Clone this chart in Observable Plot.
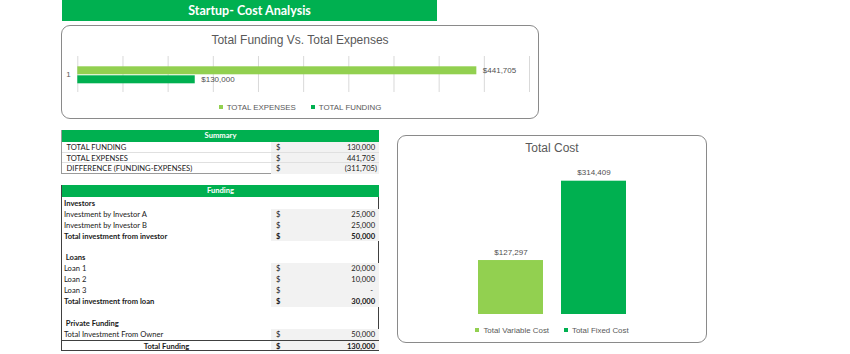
<!DOCTYPE html>
<html><head><meta charset="utf-8">
<script src="https://cdn.jsdelivr.net/npm/d3@7"></script>
<script src="https://cdn.jsdelivr.net/npm/@observablehq/plot@0.6"></script>
<style>
body{margin:0;background:#fff;width:850px;height:354px;position:relative;overflow:hidden;font-family:Lato,"Liberation Sans",sans-serif;}
.abs{position:absolute;}
.box{position:absolute;box-sizing:border-box;border:1px solid #8a8a8a;border-radius:9px;}
.ctitle{position:absolute;text-align:center;font-family:"Liberation Sans",Arial,sans-serif;color:#595959;font-size:12px;line-height:14px;}
.legend{position:absolute;display:flex;justify-content:center;align-items:center;font-family:"Liberation Sans",Arial,sans-serif;font-size:7.9px;color:#595959;gap:15px;height:12px;}
.legend .item{display:flex;align-items:center;}
.legend .sw{display:inline-block;width:4px;height:4px;margin-right:4px;}
.row{position:absolute;font-size:7.6px;color:#1a1a1a;white-space:pre;box-sizing:border-box;}
.row span{position:absolute;top:0;}
.banner{position:absolute;left:62px;top:0;width:375px;height:21px;background:#00B050;color:#fff;font:bold 12.5px Lato,"Liberation Sans",sans-serif;display:flex;align-items:center;justify-content:center;}
.thead{position:absolute;background:#00B050;color:#fff;font-weight:bold;font-size:7.6px;text-align:center;}
</style></head><body>
<div class="banner" id="banner"></div>
<div class="box" style="left:61px;top:25px;width:478px;height:94px;"></div>
<div class="ctitle" id="t1" style="left:61px;top:32.5px;width:478px;"></div>
<div class="abs" id="c1" style="left:61px;top:50px;"></div>
<div class="legend" id="l1" style="left:61px;top:101px;width:478px;"></div>

<div class="box" style="left:397px;top:134.5px;width:310px;height:208px;"></div>
<div class="ctitle" id="t2" style="left:397px;top:141.3px;width:310px;"></div>
<div class="abs" id="c2" style="left:397px;top:160px;"></div>
<div class="legend" id="l2" style="left:397px;top:324.3px;width:310px;"></div>

<div id="tables"></div>
<script>
// ---------- data ----------
const pageTitle = "Startup- Cost Analysis";
const chart1Title = "Total Funding Vs. Total Expenses";
const fundingCategory = "1";
const fundingSeries = ["TOTAL EXPENSES", "TOTAL FUNDING"];
const fundingVsExpenseValues = [441705, 130000];
const seriesColors = ["#92D050", "#00B050"];

const chart2Title = "Total Cost";
const costCategories = ["Total Variable Cost", "Total Fixed Cost"];
const costValues = [127297, 314409];

const summaryTitle = "Summary";
const summaryLabels = ["TOTAL FUNDING", "TOTAL EXPENSES", "DIFFERENCE (FUNDING-EXPENSES)"];
const summaryValues = [130000, 441705, -311705];

const fundingTitle = "Funding";
const fundingLabels = ["Investors", "Investment by Investor A", "Investment by Investor B", "Total investment from investor", "",
  " Loans", "Loan 1", "Loan 2", "Loan 3", "Total investment from loan", "",
  " Private Funding", "Total Investment From Owner", "Total Funding"];
const fundingValues = [null, 25000, 25000, 50000, null, null, 20000, 10000, 0, 30000, null, null, 50000, 130000];
const fundingKinds = ["head", "item", "item", "total", "blank", "head", "item", "item", "item", "total", "blank", "head", "item", "grand"];

// ---------- header / titles ----------
document.getElementById("banner").textContent = pageTitle;
document.getElementById("t1").textContent = chart1Title;
document.getElementById("t2").textContent = chart2Title;

function legend(el, names) {
  const L = d3.select(el);
  names.forEach((n, i) => {
    const it = L.append("div").attr("class", "item");
    it.append("span").attr("class", "sw").style("background", seriesColors[i]);
    it.append("span").text(n);
  });
}
legend("#l1", fundingSeries);
legend("#l2", costCategories);

const money = d3.format("$,");
const font = "'Liberation Sans', Arial, sans-serif";

// ---------- chart 1 ----------
const fvData = fundingSeries.map((s, i) => ({cat: fundingCategory, series: s, value: fundingVsExpenseValues[i]}));
const p1 = Plot.plot({
  width: 478, height: 46,
  marginLeft: 16.3, marginRight: 10, marginTop: 5.7, marginBottom: 4.3,
  x: {domain: [0, 500000], axis: null},
  y: {domain: fundingSeries, axis: null, paddingInner: 0.09, paddingOuter: 0.98, align: 0.55},
  fy: {domain: [fundingCategory], axis: "left", label: null, padding: 0, tickSize: 0, tickPadding: 7},
  color: {domain: fundingSeries, range: seriesColors},
  style: {background: "transparent", fontFamily: font, fontSize: "8px", color: "#595959"},
  marks: [
    Plot.gridX(d3.range(0, 500001, 50000), {stroke: "#d9d9d9", strokeOpacity: 1}),
    Plot.barX(fvData, {x: "value", y: "series", fy: "cat", fill: "series"}),
    Plot.text(fvData, {x: "value", y: "series", fy: "cat", text: d => money(d.value), textAnchor: "start", dx: 6, fill: "#505050", fontSize: 8})
  ]
});
document.getElementById("c1").appendChild(p1);

// ---------- chart 2 ----------
const costData = costCategories.map((c, i) => ({cat: c, value: costValues[i]}));
const p2 = Plot.plot({
  width: 310, height: 160,
  marginLeft: 39, marginRight: 39, marginTop: 5.6, marginBottom: 6,
  x: {domain: costCategories, axis: null, paddingInner: 0.216, paddingOuter: 0.5},
  y: {domain: [0, 350000], axis: null},
  color: {domain: costCategories, range: seriesColors},
  style: {background: "transparent", fontFamily: font, fontSize: "8px", color: "#595959"},
  marks: [
    Plot.barY(costData, {x: "cat", y: "value", fill: "cat"}),
    Plot.text(costData, {x: "cat", y: "value", text: d => money(d.value), dy: -8.5, fill: "#505050", fontSize: 8})
  ]
});
document.getElementById("c2").appendChild(p2);

// ---------- tables ----------
const T = d3.select("#tables");
const num = d3.format(",");
const TL = 62, TW = 317, VAL_L = 209, DOLLAR_L = 214;
function fmt(v) {
  if (v === 0) return "-  ";
  if (v < 0) return "(" + num(-v) + ")";
  return num(v) + " ";
}
function addRow(top, h, label, value, opts = {}) {
  const r = T.append("div").attr("class", "row")
    .style("left", TL + "px").style("top", top + "px").style("width", TW + "px").style("height", h + "px")
    .style("line-height", h + "px").style("font-weight", opts.bold ? "bold" : "normal");
  if (opts.border) r.style("border-bottom", opts.border);
  if (opts.topBorder) r.style("border-top", opts.topBorder);
  if (value !== null && value !== undefined) {
    r.append("span").style("left", VAL_L + "px").style("width", (TW - VAL_L) + "px").style("height", "100%").style("background", "#f2f2f2");
    r.append("span").style("left", DOLLAR_L + "px").text("$");
    r.append("span").style("right", "2px").style("text-align", "right").text(fmt(value));
  }
  const lab = r.append("span").text(label);
  if (opts.center) lab.style("left", "0px").style("width", VAL_L + "px").style("text-align", "center");
  else lab.style("left", (opts.indent || 2) + "px");
}

// Summary
T.append("div").attr("class", "abs").style("left", (TL - 1) + "px").style("top", "130px").style("width", (TW + 1) + "px").style("height", "44px")
  .style("border", "1px solid #9a9a9a").style("box-sizing", "border-box");
T.append("div").attr("class", "thead").style("left", TL + "px").style("top", "130px").style("width", TW + "px").style("height", "11.5px").style("line-height", "11.5px").text(summaryTitle);
summaryLabels.forEach((l, i) => addRow(142.4 + i * 10.5, 10.5, l, summaryValues[i], {border: i < 2 ? "1px solid #e0e0e0" : null, indent: 4.5}));

// Funding
T.append("div").attr("class", "abs").style("left", (TL - 1) + "px").style("top", "185px").style("width", (TW + 1) + "px").style("height", "166px")
  .style("border", "1px solid #404040").style("border-top", "none").style("box-sizing", "border-box");
T.append("div").attr("class", "thead").style("left", TL + "px").style("top", "185px").style("width", TW + "px").style("height", "11.5px").style("line-height", "11.5px").text(fundingTitle);
fundingLabels.forEach((l, i) => {
  const k = fundingKinds[i];
  addRow(197.85 + i * 10.9, 10.9, l, fundingValues[i], {
    bold: k === "head" || k === "total" || k === "grand",
    center: k === "grand",
    topBorder: k === "grand" ? "1px solid #404040" : null
  });
});
</script>
</body></html>
